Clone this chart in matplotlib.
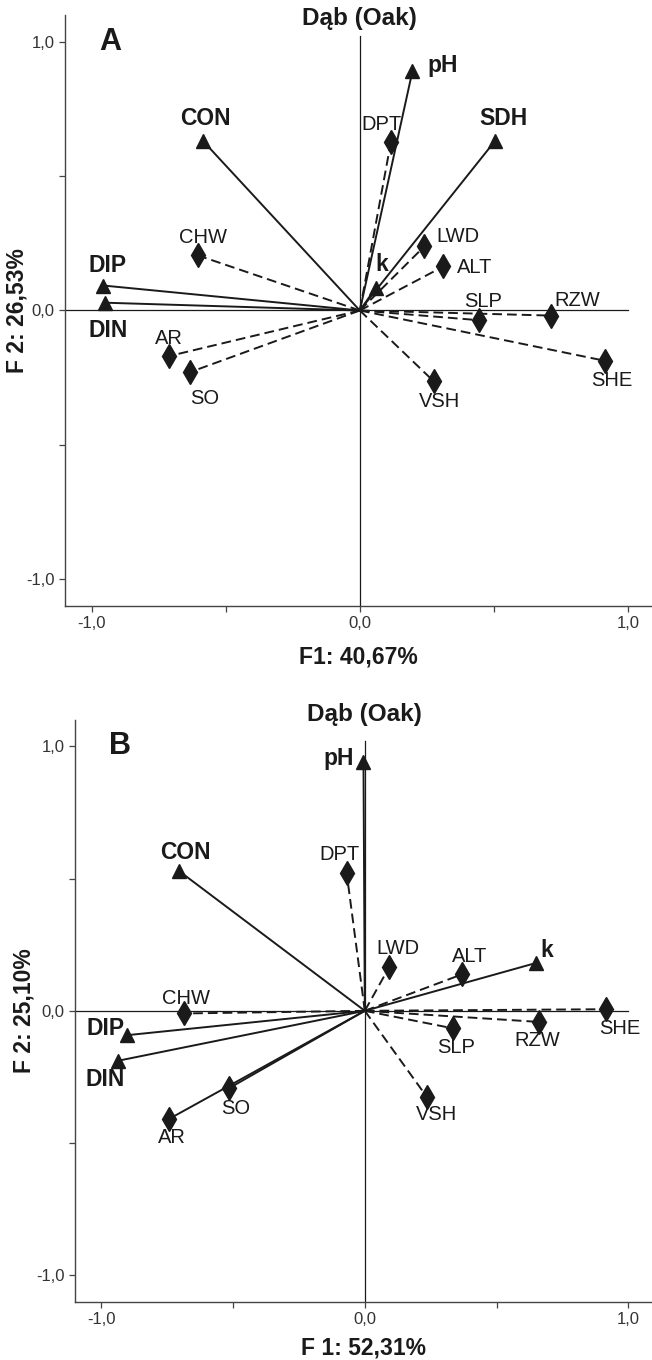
#!/usr/bin/env python3
"""
PCA biplots of habitat factors for oak stands (panels A and B).
"""

import matplotlib
matplotlib.use("Agg")
import matplotlib.pyplot as plt

plt.rcParams["font.family"] = ["Liberation Sans", "DejaVu Sans"]
plt.rcParams["lines.scale_dashes"] = False

TITLE = "Dąb (Oak)"

# panel A loadings
names_a = ["pH", "DPT", "SDH", "CON", "CHW", "LWD", "ALT", "k", "DIP", "DIN",
           "SLP", "RZW", "AR", "SO", "VSH", "SHE"]
f1_a = [0.196, 0.116, 0.505, -0.586, -0.604, 0.241, 0.312, 0.060, -0.958, -0.951,
        0.443, 0.715, -0.713, -0.635, 0.276, 0.913]
f2_a = [0.890, 0.628, 0.632, 0.632, 0.205, 0.239, 0.164, 0.085, 0.093, 0.029,
        -0.036, -0.019, -0.170, -0.230, -0.264, -0.187]
xlabel_a = "F1: 40,67%"
ylabel_a = "F 2: 26,53%"

# panel B loadings
names_b = ["pH", "CON", "DPT", "LWD", "ALT", "k", "CHW", "SHE", "DIP", "DIN",
           "SO", "AR", "SLP", "RZW", "VSH"]
f1_b = [-0.005, -0.704, -0.069, 0.093, 0.369, 0.650, -0.688, 0.914, -0.901, -0.937,
        -0.514, -0.743, 0.333, 0.661, 0.235]
f2_b = [0.940, 0.528, 0.522, 0.166, 0.138, 0.181, -0.010, 0.006, -0.092, -0.189,
        -0.292, -0.409, -0.066, -0.042, -0.325]
xlabel_b = "F 1: 52,31%"
ylabel_b = "F 2: 25,10%"

# bold names drawn with triangles, the rest with diamonds
factors = ["pH", "SDH", "CON", "k", "DIP", "DIN"]
solid_a = ["pH", "SDH", "CON", "k", "DIP", "DIN"]
solid_b = ["pH", "CON", "k", "DIP", "DIN", "SO", "AR"]

ticks = [-1.0, 0.0, 1.0]
tick_labels = ["-1,0", "0,0", "1,0"]

# label offsets in pixels (dx, dy) from the marker
offs_a = {"pH": (30, 6), "DPT": (-9, 17), "SDH": (8, 22), "CON": (3, 22),
          "CHW": (5, 18), "LWD": (33, 10), "ALT": (31, -1), "k": (6, 23),
          "DIP": (4, 20), "DIN": (3, -28), "SLP": (4, 19), "RZW": (26, 15),
          "AR": (0, 18), "SO": (15, -26), "VSH": (6, -20), "SHE": (7, -20)}
offs_b = {"pH": (-25, 4), "CON": (6, 19), "DPT": (-7, 18), "LWD": (9, 18),
          "ALT": (8, 18), "k": (11, 12), "CHW": (2, 15), "SHE": (14, -19),
          "DIP": (-22, 7), "DIN": (-13, -19), "SO": (6, -20), "AR": (3, -19),
          "SLP": (4, -19), "RZW": (-2, -19), "VSH": (10, -18)}

INK = "#1a1a1a"
PX = 0.72  # points per pixel at dpi 100


def biplot(ax, names, f1, f2, solid, offs, letter, xlabel, ylabel, title,
           title_y, xlab_y, ylab_x):
    ax.set_xlim(-1.1, 1.09)
    ax.set_ylim(-1.1, 1.1)
    for s in ["top", "right"]:
        ax.spines[s].set_visible(False)
    for s in ["left", "bottom"]:
        ax.spines[s].set_color("#444444")
        ax.spines[s].set_linewidth(1.0)

    ax.axhline(0, xmin=0, xmax=(1.0 + 1.1) / 2.19, color=INK, lw=0.9, zorder=1)
    ax.axvline(0, ymin=0, ymax=(1.02 + 1.1) / 2.2, color=INK, lw=0.9, zorder=1)

    for n, x, y in zip(names, f1, f2):
        ls = "-" if n in solid else (0, (7, 3.6))
        ax.plot([0, x], [0, y], color=INK, lw=1.4, linestyle=ls, zorder=2)
        if n in factors:
            ax.plot(x, y, marker="^", ms=10, color=INK, zorder=3)
            fw, fs = "bold", 16.5
        else:
            ax.plot(x, y, marker="d", ms=12, color=INK, zorder=3)
            fw, fs = "normal", 14.5
        dx, dy = offs[n]
        ax.annotate(n, (x, y), xytext=(dx * PX, dy * PX), textcoords="offset points",
                    ha="center", va="center", fontsize=fs, fontweight=fw, color=INK)

    ax.set_xticks(ticks)
    ax.set_xticklabels(tick_labels)
    ax.set_yticks(ticks)
    ax.set_yticklabels(tick_labels)
    ax.set_xticks([-0.5, 0.5], minor=True)
    ax.set_yticks([-0.5, 0.5], minor=True)
    ax.tick_params(which="both", direction="out", length=4, width=0.9,
                   color="#444444", labelsize=12, labelcolor="#333333")

    ax.set_xlabel(xlabel, fontsize=16.5, fontweight="bold", color=INK)
    ax.xaxis.set_label_coords(0.5, xlab_y)
    ax.xaxis.label.set_va("center")
    ax.set_ylabel(ylabel, fontsize=16.5, fontweight="bold", color=INK)
    ax.yaxis.set_label_coords(ylab_x, 0.5)
    ax.yaxis.label.set_va("center")

    ax.text(-0.93, 1.0, letter, fontsize=22, fontweight="bold", color=INK,
            ha="center", va="center")
    ax.text(0, title_y, title, fontsize=17.5, fontweight="bold", color=INK,
            ha="center", va="center", clip_on=False)


fig = plt.figure(figsize=(6.52, 13.6), dpi=100)
ax_a = fig.add_axes([0.0997, 0.5544, 0.9003, 0.4346])
ax_b = fig.add_axes([0.115, 0.0429, 0.885, 0.4277])

biplot(ax_a, names_a, f1_a, f2_a, solid_a, offs_a, "A", xlabel_a, ylabel_a, TITLE,
       1.085, -0.086, -0.082)
biplot(ax_b, names_b, f1_b, f2_b, solid_b, offs_b, "B", xlabel_b, ylabel_b, TITLE,
       1.12, -0.080, -0.088)

fig.savefig("out.png", dpi=100, facecolor="white")
